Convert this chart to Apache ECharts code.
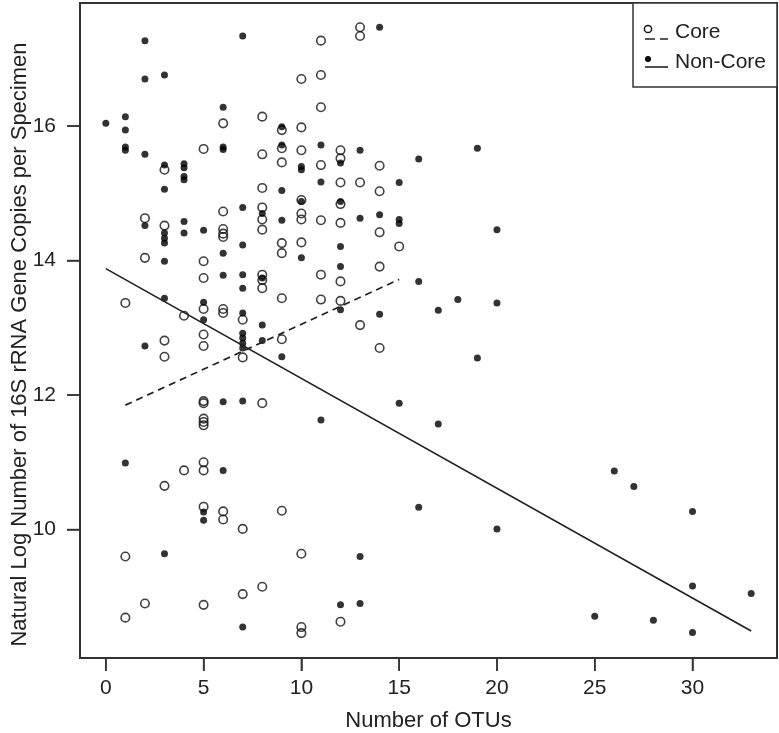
<!DOCTYPE html>
<html>
<head>
<meta charset="utf-8">
<script src="https://cdn.jsdelivr.net/npm/echarts@6/dist/echarts.min.js"></script>
<style>html,body{margin:0;padding:0;background:#fff}#c{width:779px;height:733px}</style>
</head>
<body>
<div id="c"></div>
<script>
// ---- data ----
const xTicks = [0, 5, 10, 15, 20, 25, 30];
const yTicks = [10, 12, 14, 16];
const legendNames = ['Core', 'Non-Core'];
const xTitle = 'Number of OTUs';
const yTitle = 'Natural Log Number of 16S rRNA Gene Copies per Specimen';

const coreX = [1,1,1, 2,2,2, 3,3,3,3,3, 4,4,
  5,5,5,5,5,5,5,5,5,5,5,5,5,5,5,
  6,6,6,6,6,6,6,6,6, 7,7,7,7,
  8,8,8,8,8,8,8,8,8,8,8,
  9,9,9,9,9,9,9,9,
  10,10,10,10,10,10,10,10,10,10,
  11,11,11,11,11,11,11,
  12,12,12,12,12,12,12,12,
  13,13,13,13, 14,14,14,14,14, 15];
const coreY = [13.37,9.60,8.69, 14.63,14.04,8.90, 15.35,14.52,12.81,12.57,10.65, 13.18,10.88,
  15.66,13.99,13.74,13.28,12.90,12.73,11.91,11.88,11.65,11.60,11.55,11.00,10.88,10.34,8.88,
  16.04,14.73,14.47,14.40,14.35,13.28,13.22,10.27,10.15, 13.12,12.56,10.01,9.04,
  16.14,15.58,15.08,14.79,14.61,14.46,13.79,13.71,13.59,11.88,9.15,
  15.94,15.67,15.46,14.26,14.11,13.44,12.83,10.28,
  16.70,15.98,15.64,14.90,14.70,14.61,14.27,9.64,8.55,8.46,
  17.27,16.76,16.28,15.42,14.60,13.79,13.42,
  15.64,15.52,15.16,14.84,14.56,13.69,13.40,8.63,
  17.47,17.34,15.16,13.04, 15.41,15.03,14.42,13.91,12.70, 14.21];

const nonCoreX = [0, 1,1,1,1,1, 2,2,2,2,2, 3,3,3,3,3,3,3,3,3, 4,4,4,4,4,4,
  5,5,5,5,5, 6,6,6,6,6,6,6, 7,7,7,7,7,7,7,7,7,7,7,7,
  8,8,8,8, 9,9,9,9,9, 10,10,10,10, 11,11,11, 12,12,12,12,12,12,
  13,13,13,13, 14,14,14, 15,15,15,15, 16,16,16, 17,17, 18, 19,19, 20,20,20,
  25, 26, 27, 28, 30,30,30, 33];
const nonCoreY = [16.04, 16.14,15.94,15.69,15.64,10.99, 17.27,16.70,15.58,14.52,12.73,
  16.76,15.42,15.06,14.41,14.33,14.26,13.99,13.44,9.64, 15.44,15.38,15.25,15.20,14.58,14.41,
  14.45,13.38,13.12,10.26,10.14, 16.28,15.69,15.65,14.11,13.78,11.90,10.88,
  17.34,14.79,14.23,13.79,13.59,13.22,12.92,12.85,12.77,12.70,11.91,8.55,
  14.70,13.74,13.04,12.81, 15.99,15.72,15.04,14.60,12.57, 15.40,15.35,14.88,14.04,
  15.72,15.17,11.63, 15.45,14.88,14.21,13.91,13.27,8.88,
  15.64,14.63,9.60,8.90, 17.47,14.68,13.20, 15.16,14.61,14.55,11.88, 15.51,13.69,10.33,
  13.26,11.57, 13.42, 15.67,12.55, 14.46,13.37,10.01,
  8.71, 10.87, 10.64, 8.65, 10.27,9.16,8.47, 9.05];

// fitted regression lines (end points)
const coreFitX = [1, 15];
const coreFitY = [11.85, 13.72];
const nonCoreFitX = [0, 33];
const nonCoreFitY = [13.88, 8.49];

// ---- build ----
const zip = (a, b) => a.map((v, i) => [v, b[i]]);
const FONT = 'Liberation Sans';
const TXT = '#222';
const FS = 21;
const FT = 22;
const AX = '#333';
const X_MIN = -1.32, X_MAX = 34.32, Y_MIN = 8.09, Y_MAX = 17.83;

const legendGraphic = [
  {type: 'rect', z: 1, shape: {x: 633, y: 3, width: 144, height: 84},
    style: {fill: '#fff', stroke: AX, lineWidth: 1.5}},
  {type: 'circle', z: 5, shape: {cx: 648, cy: 29, r: 3.6},
    style: {fill: 'none', stroke: '#111', lineWidth: 1.5}},
  {type: 'line', z: 5, shape: {x1: 645, y1: 39, x2: 668, y2: 39},
    style: {stroke: '#222', lineWidth: 1.6, lineDash: [10, 5]}},
  {type: 'text', z: 5, x: 675, y: 32,
    style: {text: legendNames[0], fill: TXT, font: FS + 'px "Liberation Sans"', verticalAlign: 'middle', align: 'left'}},
  {type: 'circle', z: 5, shape: {cx: 648, cy: 59, r: 3},
    style: {fill: '#000'}},
  {type: 'line', z: 5, shape: {x1: 645, y1: 67, x2: 668, y2: 67},
    style: {stroke: '#222', lineWidth: 1.6}},
  {type: 'text', z: 5, x: 675, y: 62,
    style: {text: legendNames[1], fill: TXT, font: FS + 'px "Liberation Sans"', verticalAlign: 'middle', align: 'left'}}
];

const chart = echarts.init(document.getElementById('c'), null, {renderer: 'canvas'});
chart.setOption({
  animation: false,
  backgroundColor: '#fff',
  textStyle: {fontFamily: FONT},
  grid: {left: 80, right: 2, top: 3, bottom: 75, show: true, outerBoundsMode: 'none',
    borderColor: AX, borderWidth: 2, backgroundColor: 'rgba(0,0,0,0)'},
  xAxis: [{
    type: 'value', min: X_MIN, max: X_MAX,
    axisLine: {show: false},
    splitLine: {show: false},
    axisTick: {show: true, customValues: xTicks, length: 13, lineStyle: {color: AX, width: 1.5}},
    axisLabel: {customValues: xTicks, margin: 20, fontSize: FS, color: TXT, fontFamily: FONT},
    name: xTitle, nameLocation: 'middle', nameGap: 52, nameMoveOverlap: false,
    nameTextStyle: {fontSize: FT, color: TXT, fontFamily: FONT}
  }, {
    type: 'value', min: 1, max: 2, show: false
  }],
  yAxis: {
    type: 'value', min: Y_MIN, max: Y_MAX,
    axisLine: {show: false, onZeroAxisIndex: 1},
    splitLine: {show: false},
    axisTick: {show: true, customValues: yTicks, length: 13, lineStyle: {color: AX, width: 1.5}},
    axisLabel: {customValues: yTicks, margin: 24, fontSize: FS, color: TXT, fontFamily: FONT},
    name: yTitle, nameLocation: 'middle', nameGap: 49, nameRotate: 90, nameMoveOverlap: false,
    nameTextStyle: {fontSize: FT, color: TXT, fontFamily: FONT, padding: [0, 28, 0, 0]}
  },
  graphic: legendGraphic,
  series: [
    {name: legendNames[0], type: 'scatter', symbol: 'circle', symbolSize: 8.5,
      itemStyle: {color: 'rgba(255,255,255,0)', borderColor: '#111', borderWidth: 1.6},
      data: zip(coreX, coreY)},
    {name: legendNames[1], type: 'scatter', symbol: 'circle', symbolSize: 7,
      itemStyle: {color: '#000'},
      data: zip(nonCoreX, nonCoreY)},
    {name: 'Core fit', type: 'line', symbol: 'none', silent: true,
      lineStyle: {color: '#222', width: 1.7, type: [7, 5]},
      data: zip(coreFitX, coreFitY)},
    {name: 'Non-Core fit', type: 'line', symbol: 'none', silent: true,
      lineStyle: {color: '#222', width: 1.7, type: 'solid'},
      data: zip(nonCoreFitX, nonCoreFitY)}
  ]
});

// tick marks placed through the axes' own scales (the built-in ticks are not drawn in this setup)
try {
  const ticks = [];
  const bottom = chart.convertToPixel({yAxisIndex: 0}, Y_MIN);
  const left = chart.convertToPixel({xAxisIndex: 0}, X_MIN);
  xTicks.forEach(v => {
    const px = chart.convertToPixel({xAxisIndex: 0}, v);
    ticks.push({type: 'line', z: 3, shape: {x1: px, y1: bottom, x2: px, y2: bottom + 13},
      style: {stroke: AX, lineWidth: 1.5}});
  });
  yTicks.forEach(v => {
    const py = chart.convertToPixel({yAxisIndex: 0}, v);
    ticks.push({type: 'line', z: 3, shape: {x1: left - 13, y1: py, x2: left, y2: py},
      style: {stroke: AX, lineWidth: 1.5}});
  });
  chart.setOption({graphic: legendGraphic.concat(ticks)});
} catch (e) { /* keep chart as is */ }
</script>
</body>
</html>
